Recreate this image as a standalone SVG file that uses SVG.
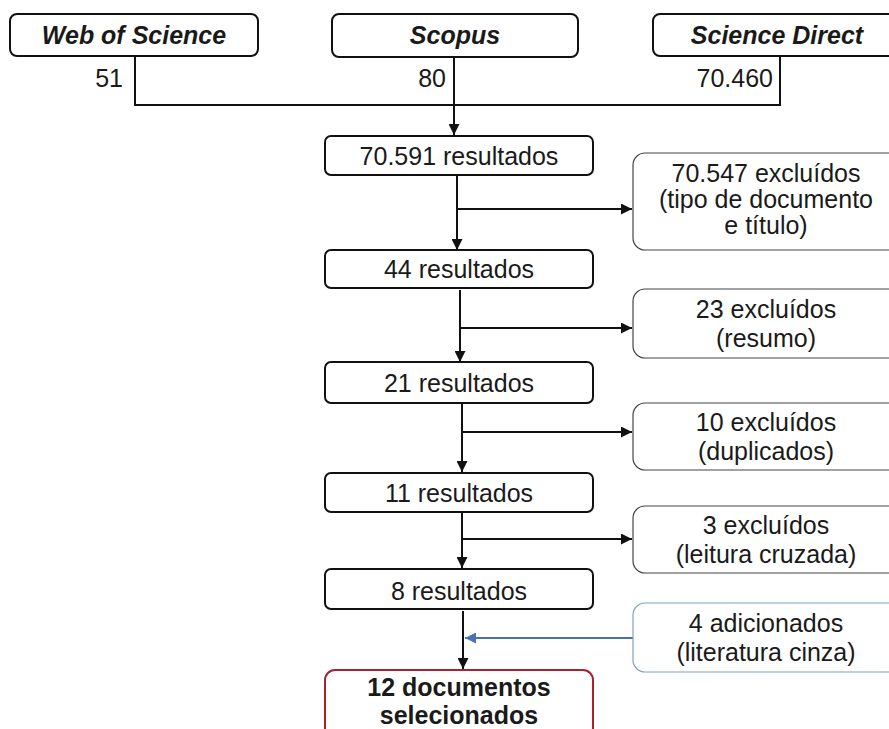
<svg xmlns="http://www.w3.org/2000/svg" width="889" height="729" viewBox="0 0 889 729">
<defs>
<style>
text{font-family:"Liberation Sans",Arial,sans-serif;font-size:25px;fill:#1a1a1a;text-anchor:middle}
.hdr{font-weight:bold;font-style:italic}
.num{text-anchor:end}
.b{font-weight:bold}
.main{fill:#fff;stroke:#111;stroke-width:2}
.exc{fill:#fff;stroke:#444;stroke-width:1.2}
.add{fill:#fff;stroke:#7f9fc8;stroke-width:1.2}
.fin{fill:#fff;stroke:#a8242c;stroke-width:2}
.ln{fill:none;stroke:#111;stroke-width:2}
.bl{fill:none;stroke:#4a72b0;stroke-width:2}
</style>
<marker id="ah" viewBox="0 0 10 10" refX="10" refY="5" markerWidth="5.5" markerHeight="5.5" orient="auto" markerUnits="strokeWidth">
<path d="M0,0 L10,5 L0,10 z" fill="#111"/>
</marker>
<marker id="ahb" viewBox="0 0 10 10" refX="10" refY="5" markerWidth="5.5" markerHeight="5.5" orient="auto" markerUnits="strokeWidth">
<path d="M0,0 L10,5 L0,10 z" fill="#4a72b0"/>
</marker>
</defs>
<rect width="889" height="729" fill="#fff"/>

<g id="connectors">
<path class="ln" d="M135,56 V105 H780 V56"/>
<path class="ln" d="M454,57 V135" marker-end="url(#ah)"/>
<path class="ln" d="M457,175 V250" marker-end="url(#ah)"/>
<path class="ln" d="M457,209 H632" marker-end="url(#ah)"/>
<path class="ln" d="M460,290 V362" marker-end="url(#ah)"/>
<path class="ln" d="M460,328 H632" marker-end="url(#ah)"/>
<path class="ln" d="M462,403 V472" marker-end="url(#ah)"/>
<path class="ln" d="M462,432 H632" marker-end="url(#ah)"/>
<path class="ln" d="M462,512 V568" marker-end="url(#ah)"/>
<path class="ln" d="M462,539 H632" marker-end="url(#ah)"/>
<path class="ln" d="M463,611 V669" marker-end="url(#ah)"/>
<path class="bl" d="M633,638 H465" marker-end="url(#ahb)"/>
</g>

<g id="wos">
<rect class="main" x="10" y="14" width="248" height="42" rx="7"/>
<text class="hdr" x="134" y="44">Web of Science</text>
<text class="num" x="123" y="87">51</text>
</g>
<g id="scopus">
<rect class="main" x="332" y="14" width="246" height="43" rx="7"/>
<text class="hdr" x="455" y="44">Scopus</text>
<text class="num" x="446" y="87">80</text>
</g>
<g id="sciencedirect">
<rect class="main" x="653" y="14" width="247" height="42" rx="7"/>
<text class="hdr" x="777" y="44">Science Direct</text>
<text class="num" x="773" y="87">70.460</text>
</g>

<g id="r70591">
<rect class="main" x="325" y="136" width="268" height="39" rx="6"/>
<text x="459" y="165">70.591 resultados</text>
</g>
<g id="e70547">
<rect class="exc" x="633" y="153" width="270" height="97" rx="12"/>
<text x="766" y="182">70.547 excluídos</text>
<text x="766" y="208">(tipo de documento</text>
<text x="766" y="234">e título)</text>
</g>

<g id="r44">
<rect class="main" x="325" y="250" width="268" height="38" rx="6"/>
<text x="459" y="278">44 resultados</text>
</g>
<g id="e23">
<rect class="exc" x="633" y="289" width="270" height="69" rx="12"/>
<text x="766" y="318">23 excluídos</text>
<text x="766" y="347">(resumo)</text>
</g>

<g id="r21">
<rect class="main" x="325" y="362" width="268" height="41" rx="6"/>
<text x="459" y="392">21 resultados</text>
</g>
<g id="e10">
<rect class="exc" x="633" y="403" width="270" height="67" rx="12"/>
<text x="766" y="431">10 excluídos</text>
<text x="766" y="460">(duplicados)</text>
</g>

<g id="r11">
<rect class="main" x="325" y="473" width="268" height="39" rx="6"/>
<text x="459" y="502">11 resultados</text>
</g>
<g id="e3">
<rect class="exc" x="633" y="506" width="270" height="67" rx="12"/>
<text x="766" y="534">3 excluídos</text>
<text x="766" y="563">(leitura cruzada)</text>
</g>

<g id="r8">
<rect class="main" x="325" y="569" width="268" height="40" rx="6"/>
<text x="459" y="600">8 resultados</text>
</g>
<g id="a4">
<rect class="add" x="633" y="603" width="270" height="69" rx="12"/>
<text x="766" y="632">4 adicionados</text>
<text x="766" y="661">(literatura cinza)</text>
</g>

<g id="final">
<rect class="fin" x="325" y="670" width="268" height="80" rx="10"/>
<text class="b" x="459" y="696">12 documentos</text>
<text class="b" x="459" y="724">selecionados</text>
</g>
</svg>
